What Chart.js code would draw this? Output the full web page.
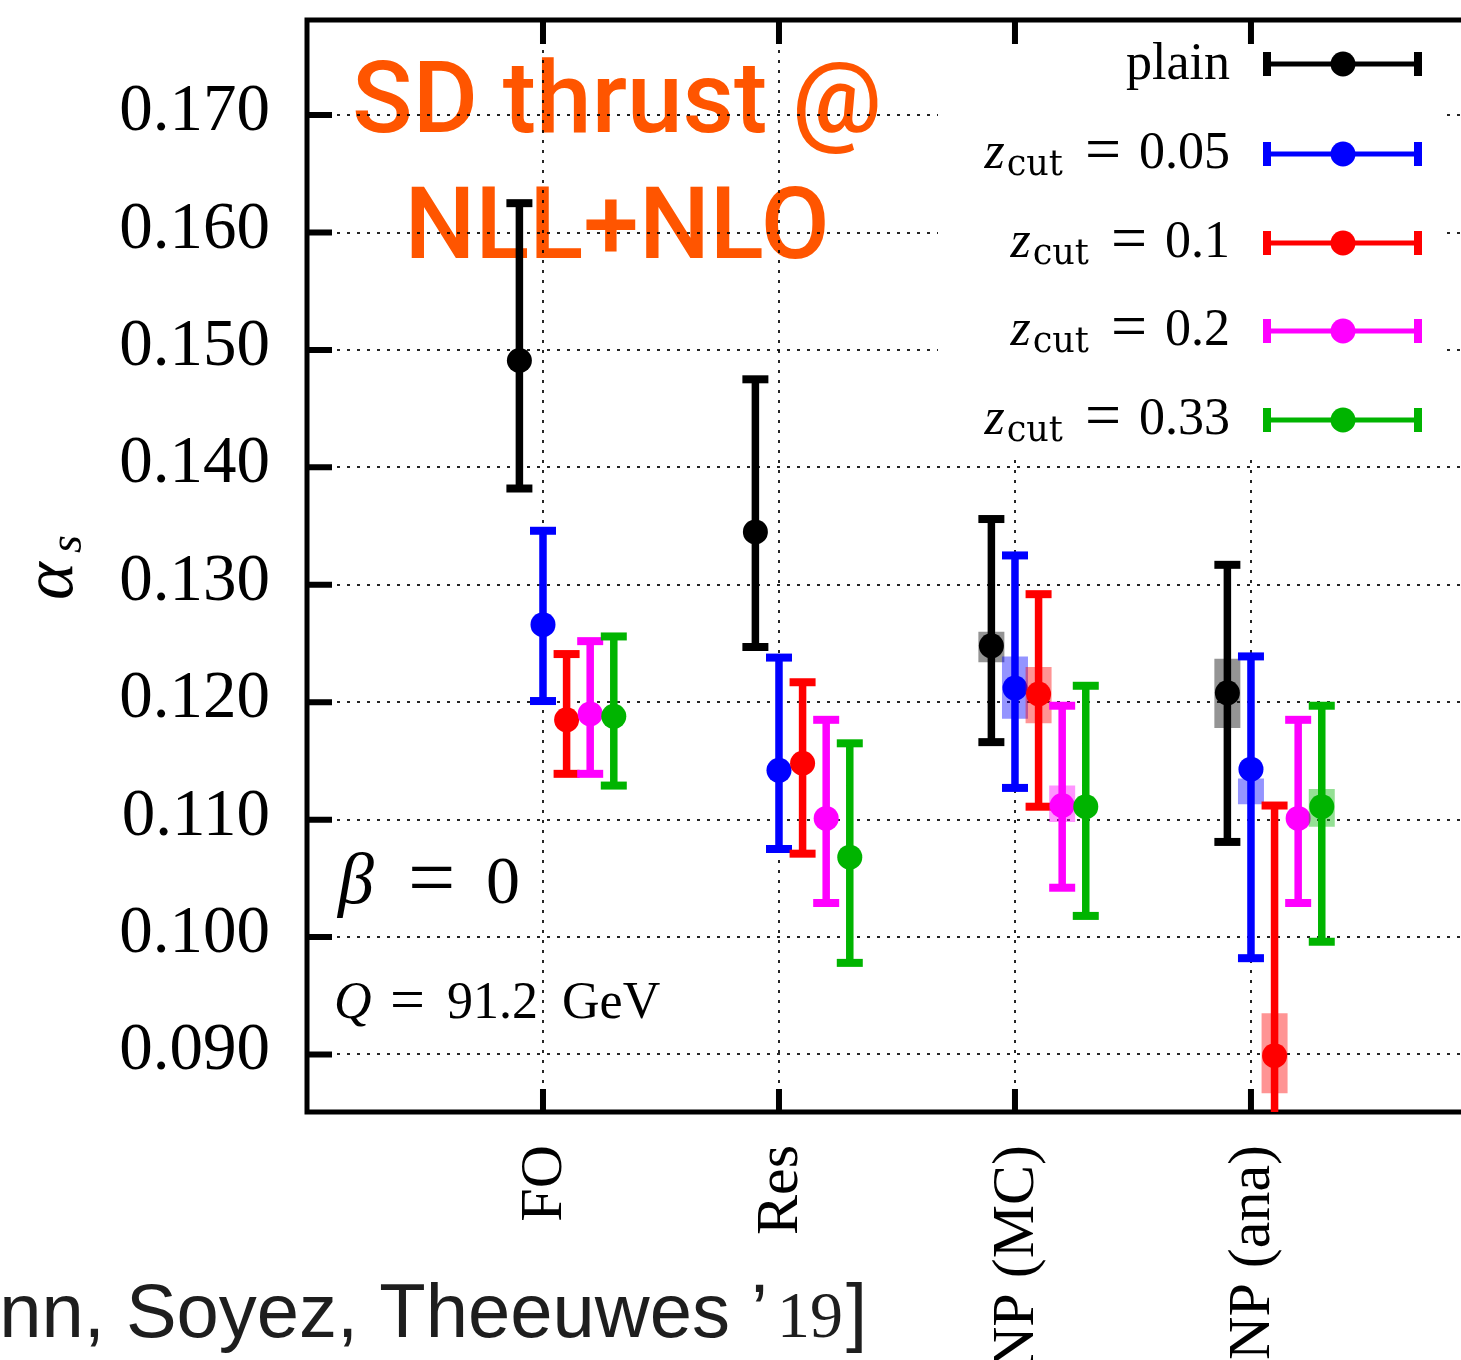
<!DOCTYPE html>
<html><head><meta charset="utf-8">
<script src="https://cdn.jsdelivr.net/npm/chart.js@4.4.1/dist/chart.umd.min.js"></script>
<style>html,body{margin:0;padding:0;background:#fff;overflow:hidden}canvas{display:block}</style>
</head><body>
<canvas id="c" width="1461" height="1360"></canvas>
<script>
// ---------- data ----------
const categories = ['FO', 'Res', 'NP (MC)', 'NP (ana)'];
const categoryPos = [1, 2, 3, 4];
const seriesNames = ['plain', '0.05', '0.1', '0.2', '0.33'];
const seriesOffsets = [-0.1, 0, 0.1, 0.2, 0.3];
const yTicks = [0.090, 0.100, 0.110, 0.120, 0.130, 0.140, 0.150, 0.160, 0.170];
const yRange = [0.0851, 0.1781];
const xRange = [0, 4.89];

const plainVal    = [0.1491, 0.1345, 0.1248, 0.1208];
const plainLo     = [0.1382, 0.1247, 0.1166, 0.1081];
const plainHi     = [0.1625, 0.1475, 0.1356, 0.1317];
const plainBandLo = [null, null, 0.1234, 0.1178];
const plainBandHi = [null, null, 0.1260, 0.1237];

const z005Val    = [0.1266, 0.1142, 0.1212, 0.1143];
const z005Lo     = [0.1201, 0.1075, 0.1127, 0.0982];
const z005Hi     = [0.1346, 0.1238, 0.1325, 0.1239];
const z005BandLo = [null, null, 0.1186, 0.1113];
const z005BandHi = [null, null, 0.1239, 0.1135];

const z01Val    = [0.1185, 0.1148, 0.1207, 0.0899];
const z01Lo     = [0.1139, 0.1071, 0.1111, 0.0800];
const z01Hi     = [0.1241, 0.1217, 0.1292, 0.1112];
const z01BandLo = [null, null, 0.1182, 0.0867];
const z01BandHi = [null, null, 0.1230, 0.0935];

const z02Val    = [0.1190, 0.1101, 0.1112, 0.1101];
const z02Lo     = [0.1139, 0.1029, 0.1042, 0.1029];
const z02Hi     = [0.1252, 0.1185, 0.1197, 0.1185];
const z02BandLo = [null, null, 0.1098, null];
const z02BandHi = [null, null, 0.1129, null];

const z033Val    = [0.1188, 0.1068, 0.1111, 0.1111];
const z033Lo     = [0.1129, 0.0978, 0.1018, 0.0996];
const z033Hi     = [0.1256, 0.1165, 0.1214, 0.1197];
const z033BandLo = [null, null, null, 0.1094];
const z033BandHi = [null, null, null, 0.1126];

// ---------- styling ----------
const seriesColors = ['#000000', '#0000ff', '#ff0000', '#ff00ff', '#00b400'];
const bandColors = ['rgba(0,0,0,0.42)', 'rgba(0,0,255,0.42)', 'rgba(255,0,0,0.42)', 'rgba(255,0,255,0.42)', 'rgba(0,180,0,0.42)'];
const SERIF = '"Liberation Serif","Times New Roman",serif';
const SUBSERIF = '"DejaVu Serif","Liberation Serif",serif';
const SANS = '"Liberation Sans",Arial,sans-serif';
const ORANGE = '#ff5500';

const series = [
  {val: plainVal, lo: plainLo, hi: plainHi, bLo: plainBandLo, bHi: plainBandHi},
  {val: z005Val, lo: z005Lo, hi: z005Hi, bLo: z005BandLo, bHi: z005BandHi},
  {val: z01Val, lo: z01Lo, hi: z01Hi, bLo: z01BandLo, bHi: z01BandHi},
  {val: z02Val, lo: z02Lo, hi: z02Hi, bLo: z02BandLo, bHi: z02BandHi},
  {val: z033Val, lo: z033Lo, hi: z033Hi, bLo: z033BandLo, bHi: z033BandHi},
];

const datasets = [];
series.forEach((s, si) => {
  const c = seriesColors[si];
  const band = [], bar = [], dots = [];
  categoryPos.forEach((p, i) => {
    const x = p + seriesOffsets[si];
    if (s.bLo[i] != null) band.push({x, y: s.bLo[i]}, {x, y: s.bHi[i]}, {x, y: null});
    bar.push({x, y: s.lo[i]}, {x, y: s.hi[i]}, {x, y: null});
    dots.push({x, y: s.val[i]});
  });
  datasets.push({type: 'line', label: seriesNames[si] + ' band', data: band, borderColor: bandColors[si],
    borderWidth: 26, borderCapStyle: 'butt', pointRadius: 0, pointHoverRadius: 0, spanGaps: false, fill: false,
    order: (4 - si) * 3 + 2});
  datasets.push({type: 'line', label: seriesNames[si] + ' err', data: bar, borderColor: c,
    borderWidth: 7.5, borderCapStyle: 'butt', pointStyle: 'line', pointRadius: 13, pointHoverRadius: 13,
    pointBorderWidth: 8, pointBorderColor: c, pointBackgroundColor: c, spanGaps: false, fill: false,
    order: (4 - si) * 3 + 1});
  datasets.push({type: 'line', label: seriesNames[si], data: dots, showLine: false, borderColor: c,
    backgroundColor: c, pointRadius: 12.5, pointHoverRadius: 12.5, pointBorderWidth: 0,
    pointBackgroundColor: c, order: (4 - si) * 3});
});

// ---------- decorations ----------
function pieces(ctx, list, base) {
  list.forEach(p => { ctx.font = p.f; ctx.fillText(p.t, p.x, base + (p.dy || 0)); });
}

function drawZcut(ctx, value, right, base) {
  const fMain = '52px ' + SERIF, fIt = 'italic 52px ' + SERIF, fSub = '35px ' + SUBSERIF, fEq = '64px ' + SERIF;
  ctx.font = fMain; const wv = ctx.measureText(value).width;
  ctx.font = fEq; const we = ctx.measureText('=').width;
  ctx.font = fSub; const wc = ctx.measureText('cut').width;
  ctx.textAlign = 'left'; ctx.textBaseline = 'alphabetic';
  let x = right - wv;
  ctx.font = fMain; ctx.fillText(value, x, base);
  x -= 18 + we;
  ctx.font = fEq; ctx.fillText('=', x, base + 2);
  x -= 22 + wc;
  ctx.font = fSub; ctx.fillText('cut', x, base + 7);
  ctx.font = fIt; const wz = ctx.measureText('z').width;
  x -= 2 + wz;
  ctx.fillText('z', x, base);
}

const decor = {
  id: 'decor',
  beforeDraw(chart) {
    const ctx = chart.ctx;
    ctx.save();
    ctx.fillStyle = '#fff';
    ctx.fillRect(0, 0, chart.width, chart.height);
    // orange title
    ctx.fillStyle = ORANGE;
    ctx.textAlign = 'center'; ctx.textBaseline = 'alphabetic';
    ctx.font = '500 100px Roboto';
    ctx.fillText('SD thrust @', 617, 132);
    ctx.fillText('NLL+NLO', 617, 258);
    // beta = 0
    ctx.fillStyle = '#000'; ctx.textAlign = 'left';
    pieces(ctx, [
      {t: 'β', x: 338, f: 'italic 72px ' + SERIF},
      {t: '=', x: 408, f: '84px ' + SERIF, dy: 3},
      {t: '0', x: 486, f: '68px ' + SERIF},
    ], 903);
    pieces(ctx, [
      {t: 'Q', x: 334, f: 'italic 52px ' + SERIF},
      {t: '=', x: 390, f: '62px ' + SERIF, dy: 2},
      {t: '91.2', x: 447, f: '52px ' + SERIF},
      {t: 'GeV', x: 562, f: '52px ' + SERIF},
    ], 1018);
    ctx.restore();
  },
  beforeDatasetsDraw(chart) {
    const ctx = chart.ctx, a = chart.chartArea;
    const xs = chart.scales.x, ys = chart.scales.y;
    ctx.save();
    // legend background (hides grid)
    ctx.fillStyle = '#fff';
    ctx.fillRect(938, a.top + 3, 1446 - 938, 455 - a.top - 3);
    // frame
    ctx.strokeStyle = '#000'; ctx.lineWidth = 5; ctx.lineCap = 'butt';
    ctx.beginPath();
    ctx.moveTo(a.right + 5, a.top); ctx.lineTo(a.left, a.top); ctx.lineTo(a.left, a.bottom); ctx.lineTo(a.right + 5, a.bottom);
    ctx.stroke();
    // tick marks
    ctx.lineWidth = 6;
    ctx.beginPath();
    yTicks.forEach(v => { const py = ys.getPixelForValue(v); ctx.moveTo(a.left, py); ctx.lineTo(a.left + 25, py); });
    categoryPos.forEach(v => {
      const px = xs.getPixelForValue(v);
      ctx.moveTo(px, a.top); ctx.lineTo(px, a.top + 24);
      ctx.moveTo(px, a.bottom); ctx.lineTo(px, a.bottom - 23);
    });
    ctx.stroke();
    ctx.restore();
  },
  afterDraw(chart) {
    const ctx = chart.ctx, a = chart.chartArea;
    const xs = chart.scales.x, ys = chart.scales.y;
    ctx.save();
    // y tick labels
    ctx.fillStyle = '#000';
    ctx.font = '67px ' + SERIF; ctx.textAlign = 'right'; ctx.textBaseline = 'alphabetic';
    yTicks.forEach(v => ctx.fillText(v.toFixed(3), a.left - 37, ys.getPixelForValue(v) + 15));
    // x tick labels (rotated)
    ctx.font = '60px ' + SERIF;
    categoryPos.forEach((v, i) => {
      const px = xs.getPixelForValue(v);
      ctx.save();
      ctx.translate(px + 18, a.bottom + 33);
      ctx.rotate(-Math.PI / 2);
      ctx.textAlign = 'right'; ctx.textBaseline = 'alphabetic';
      ctx.fillText(categories[i], 0, 0);
      ctx.restore();
    });
    // legend
    const rows = [64, 154, 243, 331, 420];
    seriesNames.forEach((name, i) => {
      const y = rows[i], c = seriesColors[i];
      ctx.fillStyle = '#000';
      if (i === 0) {
        ctx.font = '52px ' + SERIF; ctx.textAlign = 'right'; ctx.textBaseline = 'alphabetic';
        ctx.fillText(name, 1230, y + 15);
      } else {
        drawZcut(ctx, name, 1230, y + 14);
      }
      ctx.strokeStyle = c; ctx.lineWidth = 5;
      ctx.beginPath(); ctx.moveTo(1263, y); ctx.lineTo(1422, y); ctx.stroke();
      ctx.lineWidth = 8;
      ctx.beginPath(); ctx.moveTo(1267, y - 12); ctx.lineTo(1267, y + 12);
      ctx.moveTo(1418, y - 12); ctx.lineTo(1418, y + 12); ctx.stroke();
      ctx.fillStyle = c; ctx.beginPath(); ctx.arc(1343, y, 12.5, 0, Math.PI * 2); ctx.fill();
    });
    // y axis title alpha_s
    ctx.fillStyle = '#000';
    ctx.save();
    ctx.translate(72, 600); ctx.rotate(-Math.PI / 2);
    ctx.textAlign = 'left'; ctx.textBaseline = 'alphabetic';
    ctx.font = 'italic 72px ' + SERIF; ctx.fillText('α', 0, 0);
    ctx.font = 'italic 46px ' + SERIF; ctx.fillText('s', 47, 9);
    ctx.restore();
    // citation
    ctx.fillStyle = '#1e1e1e';
    ctx.textBaseline = 'alphabetic';
    ctx.textAlign = 'right';
    ctx.font = '76px ' + SANS; ctx.fillText('nn, Soyez, Theeuwes ’', 768, 1337);
    ctx.textAlign = 'left';
    ctx.font = '66px ' + SERIF; ctx.fillText('19', 777, 1337);
    ctx.font = '76px ' + SANS; ctx.fillText(']', 846, 1337);
    ctx.restore();
  }
};

new Chart(document.getElementById('c'), {
  type: 'line',
  data: {datasets},
  options: {
    responsive: false,
    animation: false,
    events: [],
    layout: {autoPadding: false, padding: {top: 20, left: 0, right: 0, bottom: 0}},
    plugins: {legend: {display: false}, tooltip: {enabled: false}, title: {display: false}},
    scales: {
      x: {
        type: 'linear', min: xRange[0], max: xRange[1],
        afterBuildTicks: s => { s.ticks = categoryPos.map(v => ({value: v})); },
        afterFit: s => { s.height = 248; s.paddingLeft = 0; s.paddingRight = 0; s.paddingTop = 0; s.paddingBottom = 0; },
        ticks: {display: false, autoSkip: false, callback: (v, i) => categories[i]},
        grid: {drawTicks: false, color: 'rgba(0,0,0,0.85)', lineWidth: 2},
        border: {display: false, dash: [3, 7]}
      },
      y: {
        type: 'linear', min: yRange[0], max: yRange[1],
        afterBuildTicks: s => { s.ticks = yTicks.map(v => ({value: v})); },
        afterFit: s => { s.width = 307; s.paddingLeft = 0; s.paddingRight = 0; s.paddingTop = 0; s.paddingBottom = 0; },
        ticks: {display: false, callback: v => v.toFixed(3)},
        grid: {drawTicks: false, color: 'rgba(0,0,0,0.85)', lineWidth: 2},
        border: {display: false, dash: [3, 7]}
      }
    }
  },
  plugins: [decor]
});
</script>
</body></html>
